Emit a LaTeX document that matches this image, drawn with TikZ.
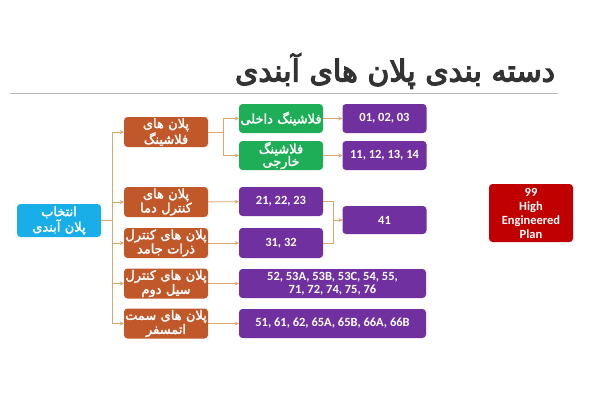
\documentclass[tikz,border=0pt]{standalone}
\usepackage{fontspec}
\usetikzlibrary{arrows.meta}
\TeXXeTstate=1
\newfontfamily\arabicfont[Script=Arabic,FakeBold=2]{DejaVu Sans}
\newfontfamily\titlefont[Script=Arabic,FakeBold=4]{DejaVu Sans}
\setmainfont{Carlito}
\newcommand{\fa}[1]{{\arabicfont\beginR #1\endR}}
\definecolor{cblue}{HTML}{1AAEE8}
\definecolor{cbrown}{HTML}{C0582A}
\definecolor{cgreen}{HTML}{1FAE58}
\definecolor{cpurple}{HTML}{7030A0}
\definecolor{cred}{HTML}{C00000}
\definecolor{cline}{HTML}{D8A86A}
\tikzset{
  box/.style={rectangle, rounded corners=3.5pt, text=white, font=\fontsize{13}{12.5}\selectfont, align=center, inner xsep=1pt, inner ysep=0pt},
  fabox/.style={box, text width=82pt},
  bluebox/.style={fabox, fill=cblue, minimum width=84pt, minimum height=33pt},
  brownbox/.style={fabox, fill=cbrown, minimum width=84pt, minimum height=30pt},
  greenbox/.style={fabox, fill=cgreen, minimum width=84pt, minimum height=29pt},
  purplebox/.style={box, fill=cpurple, minimum width=84pt, minimum height=29pt, font=\bfseries\fontsize{12.5}{13.5}\selectfont},
  widebox/.style={purplebox, minimum width=187pt},
  redbox/.style={box, fill=cred, minimum width=84pt, minimum height=58pt, font=\bfseries\fontsize{12.5}{14}\selectfont},
  conn/.style={draw=cline, line width=0.9pt},
  arr/.style={conn, -{Stealth[length=4pt,width=4pt]}}
}
\begin{document}
\begin{tikzpicture}[x=1pt,y=-1pt]
\useasboundingbox (0,0) rectangle (600,400);
\node[font=\titlefont\fontsize{30}{32}\selectfont, text=black!80] (title) at (395,71) {\beginR دسته بندی پلان های آبندی\endR};
\draw[line width=1.2pt, draw=black!28] (10,93.5) -- (558,93.5);

\node[bluebox] (sel) at (59,220.5) {\fa{انتخاب}\\\fa{پلان آبندی}};

\node[brownbox] (b1) at (166,132) {\fa{پلان های}\\\fa{فلاشینگ}};
\node[brownbox] (b2) at (166,202) {\fa{پلان های}\\\fa{کنترل دما}};
\node[brownbox] (b3) at (166,243) {\fa{پلان های کنترل}\\\fa{ذرات جامد}};
\node[brownbox] (b4) at (166,283.5) {\fa{پلان های کنترل}\\\fa{سیل دوم}};
\node[brownbox] (b5) at (166,323.5) {\fa{پلان های سمت}\\\fa{اتمسفر}};

\node[greenbox] (g1) at (281,118.5) {\fa{فلاشینگ داخلی}};
\node[greenbox] (g2) at (281,155.5) {\fa{فلاشینگ}\\\fa{خارجی}};

\node[purplebox] (p1) at (384.5,118.5) {01, 02, 03};
\node[purplebox] (p2) at (384.5,155.5) {11, 12, 13, 14};
\node[purplebox] (p21) at (281,201.5) {21, 22, 23};
\node[purplebox, minimum height=30pt] (p31) at (281,243) {31, 32};
\node[purplebox, minimum height=28pt] (p41) at (384.5,220) {41};
\node[widebox] (p52) at (332.5,283.5) {52, 53A, 53B, 53C, 54, 55,\\71, 72, 74, 75, 76};
\node[widebox] (p51) at (332.5,323.5) {51, 61, 62, 65A, 65B, 66A, 66B};

\node[redbox] (r99) at (531,213) {99\\High\\Engineered\\Plan};

\foreach \b in {b1,b2,b3,b4,b5}
  \draw[arr] (sel.east) -- ++(11,0) |- (\b.west);
\draw[arr] (b1.east) -- ++(15,0) |- (g1.west);
\draw[arr] (b1.east) -- ++(15,0) |- (g2.west);
\draw[arr] (g1) -- (p1);
\draw[arr] (g2) -- (p2);
\draw[arr] (b2) -- (p21);
\draw[arr] (b3) -- (p31);
\draw[arr] (b4.east) -- (b4.east -| p52.west);
\draw[arr] (b5.east) -- (b5.east -| p51.west);
\draw[conn] (p21.east) -- ++(10,0) |- (p41.west);
\draw[arr] (p31.east) -- ++(10,0) |- (p41.west);
\end{tikzpicture}
\end{document}
